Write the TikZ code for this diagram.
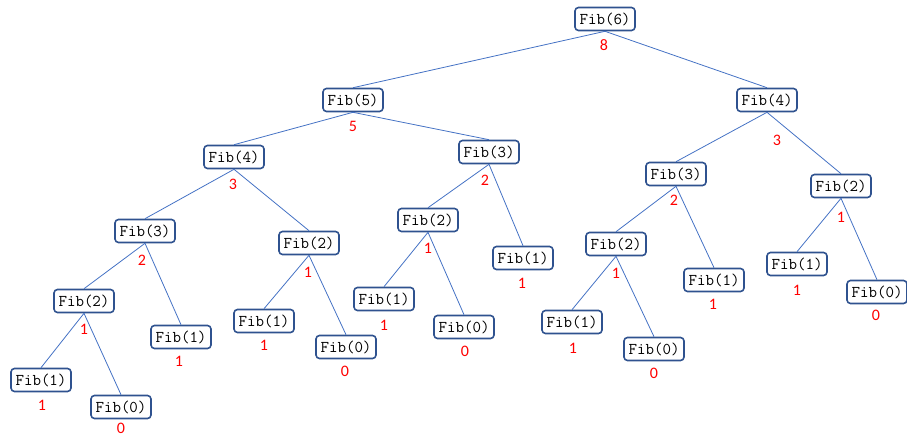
\documentclass[tikz,border=0pt]{standalone}
\usepackage{fontspec}
\newfontfamily\calib{Carlito}
\definecolor{boxblue}{HTML}{2F528F}
\definecolor{edgeblue}{HTML}{4472C4}
\definecolor{valred}{HTML}{FF0000}
\begin{document}
\begin{tikzpicture}[x=1pt,y=-1pt,
  fib/.style={draw=boxblue, line width=1.6pt, rounded corners=3.5pt, fill=white,
    minimum width=60pt, minimum height=23pt, inner sep=0pt,
    font=\ttfamily\fontsize{16.5}{16.5}\selectfont},
  val/.style={text=valred, inner sep=0pt, font=\calib\fontsize{16}{16}\selectfont},
  edge/.style={draw=edgeblue, line width=0.8pt}]
\useasboundingbox (0,0) rectangle (907,436);
% nodes
\node[fib] (n6) at (605,19) {Fib(6)};
\node[fib] (n5) at (353,100) {Fib(5)};
\node[fib] (n4r) at (767,100) {Fib(4)};
\node[fib] (n4) at (234,157) {Fib(4)};
\node[fib] (n3m) at (489,152) {Fib(3)};
\node[fib] (n3r) at (676,174) {Fib(3)};
\node[fib] (n2rr) at (841,186) {Fib(2)};
\node[fib] (n3l) at (145,231) {Fib(3)};
\node[fib] (n2a) at (309,243) {Fib(2)};
\node[fib] (n2m) at (428,220) {Fib(2)};
\node[fib] (n1m) at (523,258) {Fib(1)};
\node[fib] (n2r) at (616,244) {Fib(2)};
\node[fib] (n1r) at (714,280) {Fib(1)};
\node[fib] (n1rr) at (797,264) {Fib(1)};
\node[fib] (n0rr) at (877,292) {Fib(0)};
\node[fib] (n2l) at (84,301) {Fib(2)};
\node[fib] (n1c) at (181,337) {Fib(1)};
\node[fib] (n1a) at (264,321) {Fib(1)};
\node[fib] (n0a) at (346,347) {Fib(0)};
\node[fib] (n1b) at (384,299) {Fib(1)};
\node[fib] (n0b) at (464,327) {Fib(0)};
\node[fib] (n1d) at (572,322) {Fib(1)};
\node[fib] (n0d) at (654,349) {Fib(0)};
\node[fib] (n1e) at (41,380) {Fib(1)};
\node[fib] (n0e) at (121,407) {Fib(0)};
% edges
\path[edge] (n6.south) -- (n5.north);
\path[edge] (n6.south) -- (n4r.north);
\path[edge] (n5.south) -- (n4.north);
\path[edge] (n5.south) -- (n3m.north);
\path[edge] (n4.south) -- (n3l.north);
\path[edge] (n4.south) -- (n2a.north);
\path[edge] (n3l.south) -- (n2l.north);
\path[edge] (n3l.south) -- (n1c.north);
\path[edge] (n2l.south) -- (n1e.north);
\path[edge] (n2l.south) -- (n0e.north);
\path[edge] (n2a.south) -- (n1a.north);
\path[edge] (n2a.south) -- (n0a.north);
\path[edge] (n3m.south) -- (n2m.north);
\path[edge] (n3m.south) -- (n1m.north);
\path[edge] (n2m.south) -- (n1b.north);
\path[edge] (n2m.south) -- (n0b.north);
\path[edge] (n4r.south) -- (n3r.north);
\path[edge] (n4r.south) -- (n2rr.north);
\path[edge] (n3r.south) -- (n2r.north);
\path[edge] (n3r.south) -- (n1r.north);
\path[edge] (n2r.south) -- (n1d.north);
\path[edge] (n2r.south) -- (n0d.north);
\path[edge] (n2rr.south) -- (n1rr.north);
\path[edge] (n2rr.south) -- (n0rr.north);
% values
\node[val] (v6) at (604,45) {8};
\node[val] (v5) at (353,126) {5};
\node[val] (v4r) at (777,140) {3};
\node[val] (v4) at (233,184) {3};
\node[val] (v3m) at (485,180) {2};
\node[val] (v3r) at (674,200) {2};
\node[val] (v2rr) at (841,217) {1};
\node[val] (v3l) at (142,260) {2};
\node[val] (v2a) at (308,272) {1};
\node[val] (v2m) at (428,248) {1};
\node[val] (v1m) at (522,283) {1};
\node[val] (v2r) at (616,273) {1};
\node[val] (v1r) at (713,304) {1};
\node[val] (v1rr) at (797,290) {1};
\node[val] (v0rr) at (876,315) {0};
\node[val] (v2l) at (84,329) {1};
\node[val] (v1c) at (179,361) {1};
\node[val] (v1a) at (264,345) {1};
\node[val] (v0a) at (345,371) {0};
\node[val] (v1b) at (384,325) {1};
\node[val] (v0b) at (465,351) {0};
\node[val] (v1d) at (573,348) {1};
\node[val] (v0d) at (654,373) {0};
\node[val] (v1e) at (42,405) {1};
\node[val] (v0e) at (121,428) {0};
\end{tikzpicture}
\end{document}
